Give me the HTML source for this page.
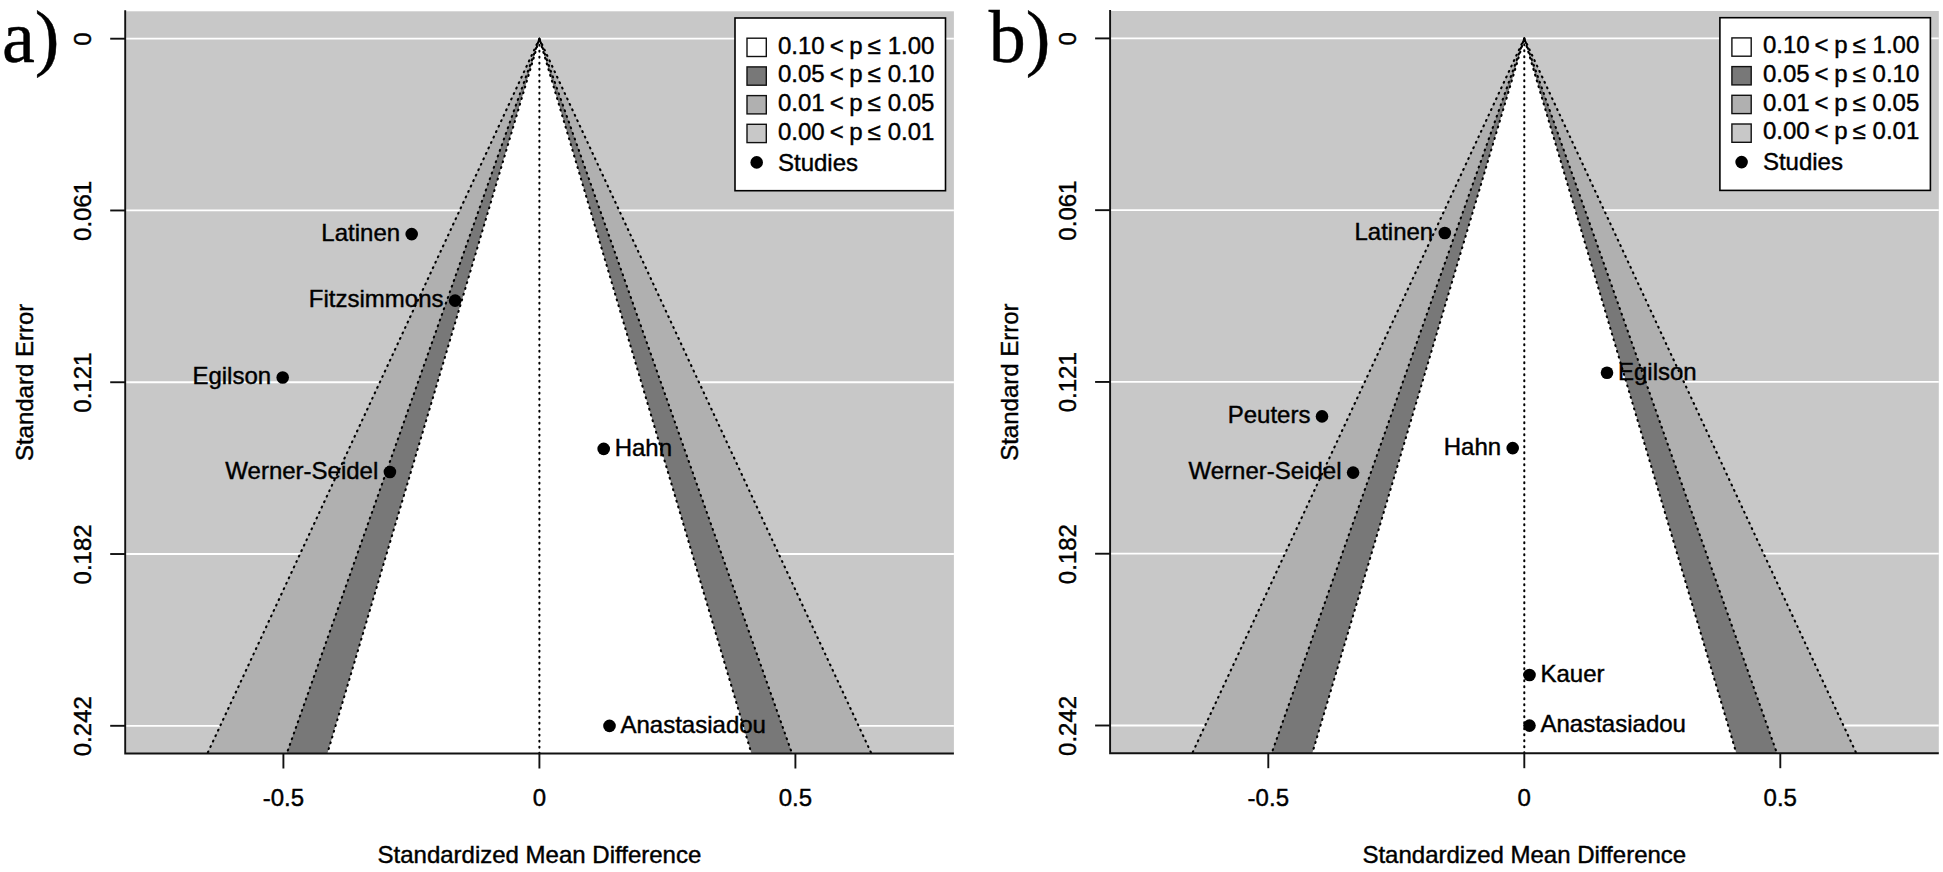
<!DOCTYPE html>
<html lang="en">
<head>
<meta charset="utf-8">
<title>Funnel plots</title>
<style>
html,body{margin:0;padding:0;background:#fff;}
body{width:1943px;height:872px;overflow:hidden;}
svg{display:block;font-family:"Liberation Sans",Arial,sans-serif;fill:#000;}
text{stroke:#000;stroke-width:0.42px;}
</style>
</head>
<body>
<svg width="1943" height="872" viewBox="0 0 1943 872">
<rect width="1943" height="872" fill="#fff"/>
<g transform="translate(0,0)">
<rect x="125.2" y="11.3" width="828.7" height="742.2" fill="#c8c8c8"/>
<line x1="125.2" x2="953.9" y1="38.70" y2="38.70" stroke="#fff" stroke-width="1.8"/>
<line x1="125.2" x2="953.9" y1="210.47" y2="210.47" stroke="#fff" stroke-width="1.8"/>
<line x1="125.2" x2="953.9" y1="382.25" y2="382.25" stroke="#fff" stroke-width="1.8"/>
<line x1="125.2" x2="953.9" y1="554.02" y2="554.02" stroke="#fff" stroke-width="1.8"/>
<line x1="125.2" x2="953.9" y1="725.80" y2="725.80" stroke="#fff" stroke-width="1.8"/>
<polygon points="539.4,38.7 207.38,753.5 871.42,753.5" fill="#b0b0b0"/>
<polygon points="539.4,38.7 286.76,753.5 792.04,753.5" fill="#787878"/>
<polygon points="539.4,38.7 327.37,753.5 751.43,753.5" fill="#fff"/>
<g stroke="#000" stroke-width="2.1" stroke-linecap="round" stroke-dasharray="0.9 5.1" fill="none">
<path stroke-dashoffset="0" d="M539.4,38.7 L207.38,753.5 M539.4,38.7 L871.42,753.5"/>
<path stroke-dashoffset="2" d="M539.4,38.7 L286.76,753.5 M539.4,38.7 L792.04,753.5"/>
<path stroke-dashoffset="4" d="M539.4,38.7 L327.37,753.5 M539.4,38.7 L751.43,753.5"/>
<path d="M539.4,38.7 L539.4,753.5"/>
</g>
<g stroke="#111" stroke-width="1.9" fill="none">
<path d="M125.2,10.3 L125.2,753.5 L953.9,753.5"/>
<line x1="110.2" x2="125.2" y1="38.70" y2="38.70"/>
<line x1="110.2" x2="125.2" y1="210.47" y2="210.47"/>
<line x1="110.2" x2="125.2" y1="382.25" y2="382.25"/>
<line x1="110.2" x2="125.2" y1="554.02" y2="554.02"/>
<line x1="110.2" x2="125.2" y1="725.80" y2="725.80"/>
<line x1="283.40" x2="283.40" y1="753.5" y2="768.5"/>
<line x1="539.40" x2="539.40" y1="753.5" y2="768.5"/>
<line x1="795.40" x2="795.40" y1="753.5" y2="768.5"/>
</g>
<g font-size="24" text-anchor="middle">
<text x="283.4" y="806">-0.5</text>
<text x="539.4" y="806">0</text>
<text x="795.4" y="806">0.5</text>
<text transform="translate(91,39.1) rotate(-90)">0</text>
<text transform="translate(91,210.9) rotate(-90)">0.061</text>
<text transform="translate(91,382.6) rotate(-90)">0.121</text>
<text transform="translate(91,554.4) rotate(-90)">0.182</text>
<text transform="translate(91,726.2) rotate(-90)">0.242</text>
<text x="539.4" y="863">Standardized Mean Difference</text>
<text transform="translate(32.8,382.4) rotate(-90)">Standard Error</text>
</g>
<circle cx="411.7" cy="234.1" r="6.3"/>
<text x="400.1" y="240.9" font-size="24" text-anchor="end">Latinen</text>
<circle cx="455.1" cy="300.6" r="6.3"/>
<text x="443.5" y="307.4" font-size="24" text-anchor="end">Fitzsimmons</text>
<circle cx="282.7" cy="377.5" r="6.3"/>
<text x="271.1" y="384.3" font-size="24" text-anchor="end">Egilson</text>
<circle cx="603.7" cy="448.9" r="6.3"/>
<text x="614.7" y="455.7" font-size="24">Hahn</text>
<circle cx="389.9" cy="472.0" r="6.3"/>
<text x="378.3" y="478.8" font-size="24" text-anchor="end">Werner-Seidel</text>
<circle cx="609.5" cy="725.9" r="6.3"/>
<text x="620.5" y="732.7" font-size="24">Anastasiadou</text>
<rect x="735" y="18" width="210.5" height="172.7" fill="#fff" stroke="#000" stroke-width="1.6"/>
<rect x="747.0" y="38.2" width="19.3" height="18.3" fill="#fff" stroke="#111" stroke-width="1.4"/>
<text y="53.6" font-size="24"><tspan x="778">0.10</tspan><tspan x="829.7">&lt;</tspan><tspan x="849.3">p</tspan><tspan x="867.6">≤</tspan><tspan x="887.7">1.00</tspan></text>
<rect x="747.0" y="66.9" width="19.3" height="18.3" fill="#787878" stroke="#111" stroke-width="1.4"/>
<text y="82.3" font-size="24"><tspan x="778">0.05</tspan><tspan x="829.7">&lt;</tspan><tspan x="849.3">p</tspan><tspan x="867.6">≤</tspan><tspan x="887.7">0.10</tspan></text>
<rect x="747.0" y="95.6" width="19.3" height="18.3" fill="#b0b0b0" stroke="#111" stroke-width="1.4"/>
<text y="111.0" font-size="24"><tspan x="778">0.01</tspan><tspan x="829.7">&lt;</tspan><tspan x="849.3">p</tspan><tspan x="867.6">≤</tspan><tspan x="887.7">0.05</tspan></text>
<rect x="747.0" y="124.3" width="19.3" height="18.3" fill="#c8c8c8" stroke="#111" stroke-width="1.4"/>
<text y="139.7" font-size="24"><tspan x="778">0.00</tspan><tspan x="829.7">&lt;</tspan><tspan x="849.3">p</tspan><tspan x="867.6">≤</tspan><tspan x="887.7">0.01</tspan></text>
<circle cx="756.7" cy="162.4" r="6.3"/>
<text x="778" y="170.5" font-size="24">Studies</text>
</g>
<text x="1.9" y="61.5" font-family="'Liberation Serif',serif" font-size="74">a)</text>
<g transform="translate(984.9,-0.3)">
<rect x="125.2" y="11.3" width="828.7" height="742.2" fill="#c8c8c8"/>
<line x1="125.2" x2="953.9" y1="38.70" y2="38.70" stroke="#fff" stroke-width="1.8"/>
<line x1="125.2" x2="953.9" y1="210.47" y2="210.47" stroke="#fff" stroke-width="1.8"/>
<line x1="125.2" x2="953.9" y1="382.25" y2="382.25" stroke="#fff" stroke-width="1.8"/>
<line x1="125.2" x2="953.9" y1="554.02" y2="554.02" stroke="#fff" stroke-width="1.8"/>
<line x1="125.2" x2="953.9" y1="725.80" y2="725.80" stroke="#fff" stroke-width="1.8"/>
<polygon points="539.4,38.7 207.38,753.5 871.42,753.5" fill="#b0b0b0"/>
<polygon points="539.4,38.7 286.76,753.5 792.04,753.5" fill="#787878"/>
<polygon points="539.4,38.7 327.37,753.5 751.43,753.5" fill="#fff"/>
<g stroke="#000" stroke-width="2.1" stroke-linecap="round" stroke-dasharray="0.9 5.1" fill="none">
<path stroke-dashoffset="0" d="M539.4,38.7 L207.38,753.5 M539.4,38.7 L871.42,753.5"/>
<path stroke-dashoffset="2" d="M539.4,38.7 L286.76,753.5 M539.4,38.7 L792.04,753.5"/>
<path stroke-dashoffset="4" d="M539.4,38.7 L327.37,753.5 M539.4,38.7 L751.43,753.5"/>
<path d="M539.4,38.7 L539.4,753.5"/>
</g>
<g stroke="#111" stroke-width="1.9" fill="none">
<path d="M125.2,10.3 L125.2,753.5 L953.9,753.5"/>
<line x1="110.2" x2="125.2" y1="38.70" y2="38.70"/>
<line x1="110.2" x2="125.2" y1="210.47" y2="210.47"/>
<line x1="110.2" x2="125.2" y1="382.25" y2="382.25"/>
<line x1="110.2" x2="125.2" y1="554.02" y2="554.02"/>
<line x1="110.2" x2="125.2" y1="725.80" y2="725.80"/>
<line x1="283.40" x2="283.40" y1="753.5" y2="768.5"/>
<line x1="539.40" x2="539.40" y1="753.5" y2="768.5"/>
<line x1="795.40" x2="795.40" y1="753.5" y2="768.5"/>
</g>
<g font-size="24" text-anchor="middle">
<text x="283.4" y="806">-0.5</text>
<text x="539.4" y="806">0</text>
<text x="795.4" y="806">0.5</text>
<text transform="translate(91,39.1) rotate(-90)">0</text>
<text transform="translate(91,210.9) rotate(-90)">0.061</text>
<text transform="translate(91,382.6) rotate(-90)">0.121</text>
<text transform="translate(91,554.4) rotate(-90)">0.182</text>
<text transform="translate(91,726.2) rotate(-90)">0.242</text>
<text x="539.4" y="863">Standardized Mean Difference</text>
<text transform="translate(32.8,382.4) rotate(-90)">Standard Error</text>
</g>
<circle cx="459.9" cy="233.3" r="6.3"/>
<text x="448.3" y="240.1" font-size="24" text-anchor="end">Latinen</text>
<circle cx="622.1" cy="373.1" r="6.3"/>
<text x="633.1" y="379.9" font-size="24">Egilson</text>
<circle cx="337.1" cy="416.7" r="6.3"/>
<text x="325.5" y="423.5" font-size="24" text-anchor="end">Peuters</text>
<circle cx="527.8" cy="448.4" r="6.3"/>
<text x="516.2" y="455.2" font-size="24" text-anchor="end">Hahn</text>
<circle cx="368.2" cy="472.9" r="6.3"/>
<text x="356.6" y="479.7" font-size="24" text-anchor="end">Werner-Seidel</text>
<circle cx="544.6" cy="675.3" r="6.3"/>
<text x="555.6" y="682.1" font-size="24">Kauer</text>
<circle cx="544.6" cy="725.9" r="6.3"/>
<text x="555.6" y="732.7" font-size="24">Anastasiadou</text>
<rect x="735" y="18" width="210.5" height="172.7" fill="#fff" stroke="#000" stroke-width="1.6"/>
<rect x="747.0" y="38.2" width="19.3" height="18.3" fill="#fff" stroke="#111" stroke-width="1.4"/>
<text y="53.6" font-size="24"><tspan x="778">0.10</tspan><tspan x="829.7">&lt;</tspan><tspan x="849.3">p</tspan><tspan x="867.6">≤</tspan><tspan x="887.7">1.00</tspan></text>
<rect x="747.0" y="66.9" width="19.3" height="18.3" fill="#787878" stroke="#111" stroke-width="1.4"/>
<text y="82.3" font-size="24"><tspan x="778">0.05</tspan><tspan x="829.7">&lt;</tspan><tspan x="849.3">p</tspan><tspan x="867.6">≤</tspan><tspan x="887.7">0.10</tspan></text>
<rect x="747.0" y="95.6" width="19.3" height="18.3" fill="#b0b0b0" stroke="#111" stroke-width="1.4"/>
<text y="111.0" font-size="24"><tspan x="778">0.01</tspan><tspan x="829.7">&lt;</tspan><tspan x="849.3">p</tspan><tspan x="867.6">≤</tspan><tspan x="887.7">0.05</tspan></text>
<rect x="747.0" y="124.3" width="19.3" height="18.3" fill="#c8c8c8" stroke="#111" stroke-width="1.4"/>
<text y="139.7" font-size="24"><tspan x="778">0.00</tspan><tspan x="829.7">&lt;</tspan><tspan x="849.3">p</tspan><tspan x="867.6">≤</tspan><tspan x="887.7">0.01</tspan></text>
<circle cx="756.7" cy="162.4" r="6.3"/>
<text x="778" y="170.5" font-size="24">Studies</text>
</g>
<text x="988.8" y="61.5" font-family="'Liberation Serif',serif" font-size="74">b)</text>
</svg>
</body>
</html>
